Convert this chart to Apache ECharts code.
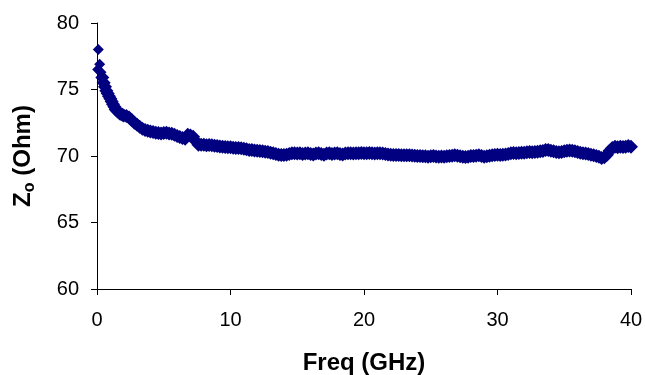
<!DOCTYPE html>
<html>
<head>
<meta charset="utf-8">
<script src="https://cdn.jsdelivr.net/npm/echarts@6/dist/echarts.min.js"></script>
<style>
html,body{margin:0;padding:0;background:#fff;}
#c{width:645px;height:375px;}
</style>
</head>
<body>
<div id="c"></div>
<script>
// Frequency (GHz)
const freq = [
  0.05, 0.1, 0.2, 0.3, 0.4, 0.5, 0.6, 0.7, 0.8, 0.9, 1.0,
  1.1, 1.2, 1.3, 1.4, 1.5, 1.6, 1.7, 1.8, 1.9, 2.0,
  2.2, 2.4, 2.6, 2.8, 3.0, 3.2, 3.4, 3.6, 3.8, 4.0,
  4.2, 4.4, 4.6, 4.8, 5.0, 5.2, 5.4, 5.6, 5.8, 6.0,
  6.2, 6.4, 6.6, 6.8, 7.0, 7.2, 7.4, 7.6, 7.8, 8.0,
  8.2, 8.4, 8.6, 8.8, 9.0, 9.2, 9.4, 9.6, 9.8, 10.0,
  10.2, 10.4, 10.6, 10.8, 11.0, 11.2, 11.4, 11.6, 11.8, 12.0,
  12.2, 12.4, 12.6, 12.8, 13.0, 13.2, 13.4, 13.6, 13.8, 14.0,
  14.2, 14.4, 14.6, 14.8, 15.0, 15.2, 15.4, 15.6, 15.8, 16.0,
  16.2, 16.4, 16.6, 16.8, 17.0, 17.2, 17.4, 17.6, 17.8, 18.0,
  18.2, 18.4, 18.6, 18.8, 19.0, 19.2, 19.4, 19.6, 19.8, 20.0,
  20.2, 20.4, 20.6, 20.8, 21.0, 21.2, 21.4, 21.6, 21.8, 22.0,
  22.2, 22.4, 22.6, 22.8, 23.0, 23.2, 23.4, 23.6, 23.8, 24.0,
  24.2, 24.4, 24.6, 24.8, 25.0, 25.2, 25.4, 25.6, 25.8, 26.0,
  26.2, 26.4, 26.6, 26.8, 27.0, 27.2, 27.4, 27.6, 27.8, 28.0,
  28.2, 28.4, 28.6, 28.8, 29.0, 29.2, 29.4, 29.6, 29.8, 30.0,
  30.2, 30.4, 30.6, 30.8, 31.0, 31.2, 31.4, 31.6, 31.8, 32.0,
  32.2, 32.4, 32.6, 32.8, 33.0, 33.2, 33.4, 33.6, 33.8, 34.0,
  34.2, 34.4, 34.6, 34.8, 35.0, 35.2, 35.4, 35.6, 35.8, 36.0,
  36.2, 36.4, 36.6, 36.8, 37.0, 37.2, 37.4, 37.6, 37.8, 38.0,
  38.2, 38.4, 38.6, 38.8, 39.0, 39.2, 39.4, 39.6, 39.8, 40.0
];
// Characteristic impedance Zo (Ohm)
const zo = [
  76.5, 78.0, 76.9, 76.3, 75.9, 75.5, 75.2, 74.9, 74.7, 74.5, 74.3,
  74.1, 73.9, 73.7, 73.5, 73.4, 73.3, 73.2, 73.15, 73.1, 73.05,
  73.0, 72.9, 72.7, 72.5, 72.35, 72.2, 72.05, 71.95, 71.9, 71.85,
  71.8, 71.75, 71.72, 71.7, 71.72, 71.75, 71.7, 71.68, 71.6, 71.5,
  71.42, 71.35, 71.3, 71.6, 71.55, 71.45, 71.1, 70.85, 70.85, 70.85,
  70.8, 70.82, 70.8, 70.78, 70.75, 70.72, 70.7, 70.68, 70.65, 70.65,
  70.62, 70.6, 70.6, 70.58, 70.55, 70.5, 70.45, 70.45, 70.42, 70.4,
  70.38, 70.35, 70.32, 70.3, 70.25, 70.2, 70.15, 70.1, 70.08, 70.08,
  70.1, 70.15, 70.2, 70.2, 70.18, 70.2, 70.15, 70.18, 70.2, 70.15,
  70.12, 70.18, 70.2, 70.15, 70.1, 70.18, 70.2, 70.15, 70.18, 70.2,
  70.15, 70.12, 70.18, 70.2, 70.2, 70.18, 70.2, 70.2, 70.22, 70.2,
  70.2, 70.22, 70.2, 70.18, 70.2, 70.2, 70.18, 70.15, 70.12, 70.1,
  70.08, 70.08, 70.08, 70.05, 70.05, 70.05, 70.05, 70.03, 70.02, 70.0,
  70.0, 69.98, 69.98, 69.95, 69.98, 70.0, 69.97, 69.95, 69.97, 69.95,
  69.98, 70.0, 70.02, 70.05, 70.02, 69.98, 69.95, 69.92, 69.95, 70.0,
  70.0, 70.02, 70.05, 70.0, 69.95, 69.98, 70.02, 70.05, 70.08, 70.1,
  70.08, 70.1, 70.12, 70.15, 70.2, 70.22, 70.2, 70.22, 70.25, 70.25,
  70.28, 70.3, 70.28, 70.3, 70.32, 70.35, 70.38, 70.45, 70.45, 70.4,
  70.35, 70.3, 70.28, 70.3, 70.35, 70.4, 70.42, 70.4, 70.35, 70.3,
  70.25, 70.2, 70.18, 70.15, 70.1, 70.05, 70.0, 69.95, 69.85, 69.9,
  70.1, 70.4, 70.6, 70.7, 70.65, 70.7, 70.68, 70.7, 70.75, 70.7
];
const xTicks = [0, 10, 20, 30, 40];
const yTicks = [60, 65, 70, 75, 80];

const points = freq.map((f, i) => [f, zo[i]]);
const font = '"Liberation Sans", Arial, sans-serif';

const chart = echarts.init(document.getElementById('c'), null, {renderer: 'canvas'});
chart.setOption({
  animation: false,
  backgroundColor: '#ffffff',
  grid: {left: 97, right: 14, top: 23, bottom: 86, containLabel: false, outerBoundsMode: 'none'},
  xAxis: {
    type: 'value',
    min: xTicks[0], max: xTicks[xTicks.length - 1], interval: 10,
    name: 'Freq (GHz)',
    nameLocation: 'middle',
    nameGap: 62,
    nameTextStyle: {fontFamily: font, fontWeight: 'bold', fontSize: 24, color: '#000'},
    axisLine: {show: true, onZero: false, lineStyle: {color: '#000', width: 1}},
    axisTick: {show: true, inside: false, length: 6, lineStyle: {color: '#000'}},
    axisLabel: {fontFamily: font, fontSize: 20, color: '#000', margin: 21},
    splitLine: {show: false}
  },
  yAxis: {
    type: 'value',
    min: yTicks[0], max: yTicks[yTicks.length - 1], interval: 5,
    name: '{z|Z}{s|o}{n| (Ohm)}',
    nameLocation: 'middle',
    nameGap: 59,
    nameTextStyle: {
      fontFamily: font, fontWeight: 'bold', fontSize: 24, color: '#000',
      rich: {
        z: {fontFamily: font, fontWeight: 'bold', fontSize: 24, color: '#000', lineHeight: 30},
        s: {fontFamily: font, fontWeight: 'bold', fontSize: 16, color: '#000', lineHeight: 16, verticalAlign: 'bottom'},
        n: {fontFamily: font, fontWeight: 'bold', fontSize: 24, color: '#000', lineHeight: 30}
      }
    },
    axisLine: {show: true, onZero: false, lineStyle: {color: '#000', width: 1}},
    axisTick: {show: true, inside: false, length: 6, lineStyle: {color: '#000'}},
    axisLabel: {fontFamily: font, fontSize: 20, color: '#000', margin: 18},
    splitLine: {show: false}
  },
  series: [{
    type: 'scatter',
    data: points,
    symbol: 'diamond',
    symbolSize: (val, params) => (params.dataIndex < 4 ? 11 : 14),
    itemStyle: {color: '#000080', opacity: 1},
    emphasis: {disabled: true}
  }]
});
</script>
</body>
</html>
